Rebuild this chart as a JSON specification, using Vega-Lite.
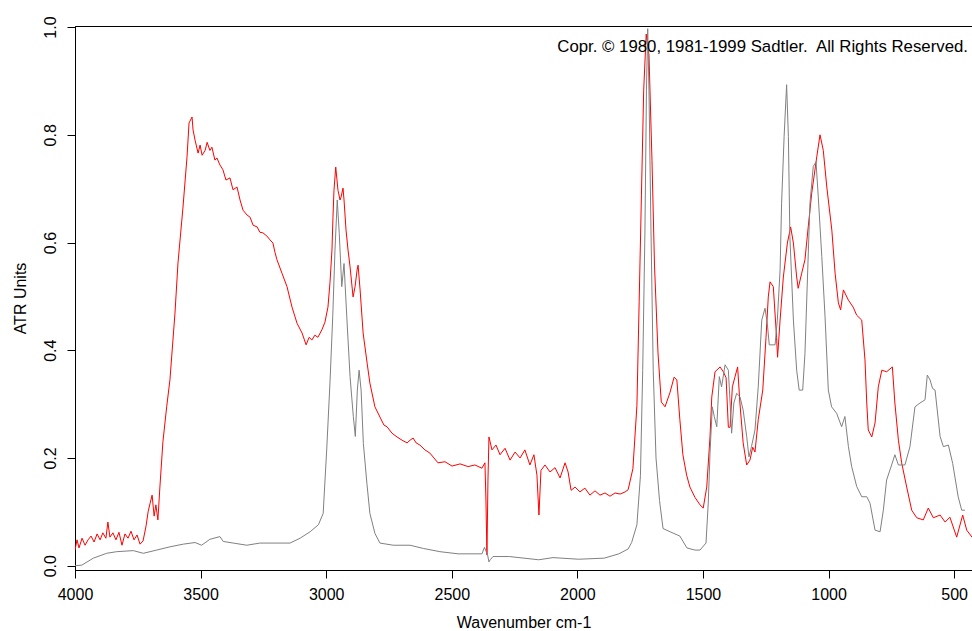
{
  "$schema": "https://vega.github.io/schema/vega-lite/v6.json",
  "width": 897,
  "height": 544,
  "autosize": {"type": "none"},
  "padding": {"left": 75, "top": 26, "right": 0, "bottom": 61},
  "background": "#ffffff",
  "config": {
    "font": "Liberation Sans",
    "view": {"stroke": "#000000", "strokeWidth": 1},
    "axis": {
      "grid": false,
      "domainColor": "#000000",
      "tickColor": "#000000",
      "tickSize": 8,
      "labelColor": "#000000",
      "titleColor": "#000000",
      "labelFontSize": 16,
      "titleFontSize": 16,
      "titleFontWeight": "normal",
      "labelFont": "Liberation Sans",
      "titleFont": "Liberation Sans",
      "labelFlush": false,
      "labelOverlap": false
    }
  },
  "datasets": {
    "red": [
      {"w": 4000, "a": 0.029}, {"w": 3992, "a": 0.048}, {"w": 3984, "a": 0.033}, {"w": 3972, "a": 0.051},
      {"w": 3960, "a": 0.038}, {"w": 3948, "a": 0.048}, {"w": 3936, "a": 0.055}, {"w": 3924, "a": 0.044},
      {"w": 3912, "a": 0.059}, {"w": 3900, "a": 0.048}, {"w": 3889, "a": 0.061}, {"w": 3877, "a": 0.051},
      {"w": 3869, "a": 0.081}, {"w": 3861, "a": 0.053}, {"w": 3849, "a": 0.061}, {"w": 3837, "a": 0.048},
      {"w": 3825, "a": 0.062}, {"w": 3813, "a": 0.038}, {"w": 3801, "a": 0.059}, {"w": 3789, "a": 0.051},
      {"w": 3777, "a": 0.064}, {"w": 3765, "a": 0.048}, {"w": 3753, "a": 0.057}, {"w": 3741, "a": 0.040},
      {"w": 3729, "a": 0.046}, {"w": 3717, "a": 0.074}, {"w": 3709, "a": 0.100}, {"w": 3701, "a": 0.116},
      {"w": 3693, "a": 0.131}, {"w": 3685, "a": 0.092}, {"w": 3678, "a": 0.113}, {"w": 3670, "a": 0.085},
      {"w": 3662, "a": 0.146}, {"w": 3650, "a": 0.230}, {"w": 3635, "a": 0.295}, {"w": 3622, "a": 0.345},
      {"w": 3602, "a": 0.469}, {"w": 3590, "a": 0.562}, {"w": 3570, "a": 0.666}, {"w": 3554, "a": 0.759},
      {"w": 3546, "a": 0.822}, {"w": 3534, "a": 0.833}, {"w": 3530, "a": 0.809}, {"w": 3522, "a": 0.790},
      {"w": 3510, "a": 0.766}, {"w": 3502, "a": 0.781}, {"w": 3494, "a": 0.762}, {"w": 3482, "a": 0.771},
      {"w": 3474, "a": 0.786}, {"w": 3463, "a": 0.771}, {"w": 3455, "a": 0.777}, {"w": 3443, "a": 0.753},
      {"w": 3435, "a": 0.757}, {"w": 3423, "a": 0.744}, {"w": 3411, "a": 0.735}, {"w": 3399, "a": 0.716},
      {"w": 3383, "a": 0.720}, {"w": 3371, "a": 0.698}, {"w": 3355, "a": 0.703}, {"w": 3343, "a": 0.679},
      {"w": 3331, "a": 0.660}, {"w": 3315, "a": 0.651}, {"w": 3303, "a": 0.647}, {"w": 3291, "a": 0.632},
      {"w": 3275, "a": 0.629}, {"w": 3264, "a": 0.619}, {"w": 3252, "a": 0.618}, {"w": 3236, "a": 0.612},
      {"w": 3224, "a": 0.605}, {"w": 3212, "a": 0.599}, {"w": 3204, "a": 0.582}, {"w": 3196, "a": 0.568},
      {"w": 3176, "a": 0.543}, {"w": 3156, "a": 0.518}, {"w": 3136, "a": 0.480}, {"w": 3116, "a": 0.450},
      {"w": 3096, "a": 0.432}, {"w": 3080, "a": 0.410}, {"w": 3068, "a": 0.424}, {"w": 3057, "a": 0.419},
      {"w": 3045, "a": 0.428}, {"w": 3033, "a": 0.424}, {"w": 3017, "a": 0.438}, {"w": 3005, "a": 0.452},
      {"w": 2993, "a": 0.480}, {"w": 2985, "a": 0.525}, {"w": 2977, "a": 0.586}, {"w": 2973, "a": 0.647},
      {"w": 2969, "a": 0.697}, {"w": 2962, "a": 0.740}, {"w": 2957, "a": 0.716}, {"w": 2953, "a": 0.697},
      {"w": 2945, "a": 0.679}, {"w": 2941, "a": 0.684}, {"w": 2933, "a": 0.701}, {"w": 2929, "a": 0.679},
      {"w": 2921, "a": 0.623}, {"w": 2913, "a": 0.586}, {"w": 2905, "a": 0.555}, {"w": 2893, "a": 0.499},
      {"w": 2885, "a": 0.518}, {"w": 2877, "a": 0.549}, {"w": 2873, "a": 0.558}, {"w": 2865, "a": 0.512},
      {"w": 2853, "a": 0.432}, {"w": 2837, "a": 0.376}, {"w": 2826, "a": 0.339}, {"w": 2806, "a": 0.295},
      {"w": 2786, "a": 0.276}, {"w": 2770, "a": 0.261}, {"w": 2758, "a": 0.258}, {"w": 2738, "a": 0.246},
      {"w": 2718, "a": 0.239}, {"w": 2698, "a": 0.233}, {"w": 2678, "a": 0.228}, {"w": 2666, "a": 0.233},
      {"w": 2654, "a": 0.237}, {"w": 2642, "a": 0.228}, {"w": 2627, "a": 0.224}, {"w": 2607, "a": 0.215},
      {"w": 2587, "a": 0.209}, {"w": 2571, "a": 0.200}, {"w": 2555, "a": 0.191}, {"w": 2527, "a": 0.193},
      {"w": 2499, "a": 0.185}, {"w": 2467, "a": 0.189}, {"w": 2435, "a": 0.184}, {"w": 2408, "a": 0.187},
      {"w": 2380, "a": 0.181}, {"w": 2368, "a": 0.191}, {"w": 2364, "a": 0.122}, {"w": 2360, "a": 0.020},
      {"w": 2356, "a": 0.159}, {"w": 2352, "a": 0.239}, {"w": 2340, "a": 0.215}, {"w": 2324, "a": 0.224},
      {"w": 2308, "a": 0.206}, {"w": 2288, "a": 0.218}, {"w": 2268, "a": 0.196}, {"w": 2248, "a": 0.211},
      {"w": 2228, "a": 0.200}, {"w": 2209, "a": 0.215}, {"w": 2189, "a": 0.187}, {"w": 2173, "a": 0.206},
      {"w": 2161, "a": 0.168}, {"w": 2153, "a": 0.094}, {"w": 2145, "a": 0.177}, {"w": 2129, "a": 0.187},
      {"w": 2109, "a": 0.174}, {"w": 2089, "a": 0.182}, {"w": 2069, "a": 0.163}, {"w": 2049, "a": 0.191},
      {"w": 2037, "a": 0.174}, {"w": 2025, "a": 0.140}, {"w": 2009, "a": 0.146}, {"w": 1990, "a": 0.137},
      {"w": 1970, "a": 0.144}, {"w": 1950, "a": 0.131}, {"w": 1930, "a": 0.139}, {"w": 1910, "a": 0.131},
      {"w": 1890, "a": 0.135}, {"w": 1870, "a": 0.129}, {"w": 1850, "a": 0.135}, {"w": 1830, "a": 0.133},
      {"w": 1810, "a": 0.137}, {"w": 1798, "a": 0.141}, {"w": 1779, "a": 0.180}, {"w": 1763, "a": 0.297},
      {"w": 1754, "a": 0.491}, {"w": 1745, "a": 0.688}, {"w": 1736, "a": 0.883}, {"w": 1726, "a": 0.987},
      {"w": 1715, "a": 0.948}, {"w": 1703, "a": 0.753}, {"w": 1693, "a": 0.558}, {"w": 1679, "a": 0.395},
      {"w": 1666, "a": 0.304}, {"w": 1651, "a": 0.295}, {"w": 1631, "a": 0.322}, {"w": 1615, "a": 0.350},
      {"w": 1604, "a": 0.345}, {"w": 1592, "a": 0.271}, {"w": 1580, "a": 0.206}, {"w": 1565, "a": 0.168},
      {"w": 1552, "a": 0.146}, {"w": 1532, "a": 0.127}, {"w": 1512, "a": 0.113}, {"w": 1499, "a": 0.107},
      {"w": 1485, "a": 0.146}, {"w": 1472, "a": 0.239}, {"w": 1465, "a": 0.313}, {"w": 1452, "a": 0.360},
      {"w": 1432, "a": 0.369}, {"w": 1419, "a": 0.360}, {"w": 1408, "a": 0.349}, {"w": 1399, "a": 0.257},
      {"w": 1392, "a": 0.257}, {"w": 1383, "a": 0.332}, {"w": 1373, "a": 0.350}, {"w": 1362, "a": 0.369},
      {"w": 1353, "a": 0.302}, {"w": 1340, "a": 0.228}, {"w": 1326, "a": 0.187}, {"w": 1313, "a": 0.196},
      {"w": 1302, "a": 0.220}, {"w": 1293, "a": 0.211}, {"w": 1280, "a": 0.271}, {"w": 1262, "a": 0.326},
      {"w": 1249, "a": 0.424}, {"w": 1240, "a": 0.499}, {"w": 1233, "a": 0.527}, {"w": 1220, "a": 0.518},
      {"w": 1207, "a": 0.424}, {"w": 1203, "a": 0.387}, {"w": 1193, "a": 0.456}, {"w": 1180, "a": 0.536},
      {"w": 1164, "a": 0.599}, {"w": 1151, "a": 0.629}, {"w": 1140, "a": 0.599}, {"w": 1127, "a": 0.536},
      {"w": 1121, "a": 0.515}, {"w": 1107, "a": 0.543}, {"w": 1094, "a": 0.568}, {"w": 1081, "a": 0.629},
      {"w": 1067, "a": 0.692}, {"w": 1047, "a": 0.759}, {"w": 1034, "a": 0.800}, {"w": 1021, "a": 0.771},
      {"w": 1007, "a": 0.703}, {"w": 987, "a": 0.623}, {"w": 974, "a": 0.543}, {"w": 961, "a": 0.488},
      {"w": 952, "a": 0.475}, {"w": 941, "a": 0.512}, {"w": 921, "a": 0.493}, {"w": 902, "a": 0.480},
      {"w": 888, "a": 0.465}, {"w": 868, "a": 0.456}, {"w": 855, "a": 0.382}, {"w": 848, "a": 0.302},
      {"w": 842, "a": 0.252}, {"w": 828, "a": 0.239}, {"w": 815, "a": 0.265}, {"w": 802, "a": 0.332},
      {"w": 788, "a": 0.363}, {"w": 769, "a": 0.360}, {"w": 746, "a": 0.369}, {"w": 736, "a": 0.302},
      {"w": 722, "a": 0.233}, {"w": 709, "a": 0.191}, {"w": 689, "a": 0.146}, {"w": 669, "a": 0.103},
      {"w": 649, "a": 0.089}, {"w": 623, "a": 0.085}, {"w": 603, "a": 0.107}, {"w": 583, "a": 0.089},
      {"w": 556, "a": 0.094}, {"w": 536, "a": 0.081}, {"w": 517, "a": 0.090}, {"w": 490, "a": 0.053},
      {"w": 466, "a": 0.094}, {"w": 450, "a": 0.066}, {"w": 429, "a": 0.053}
    ],
    "gray": [
      {"w": 4000, "a": 0.000}, {"w": 3973, "a": 0.001}, {"w": 3927, "a": 0.014}, {"w": 3874, "a": 0.023},
      {"w": 3834, "a": 0.026}, {"w": 3768, "a": 0.028}, {"w": 3728, "a": 0.023}, {"w": 3675, "a": 0.029},
      {"w": 3622, "a": 0.035}, {"w": 3569, "a": 0.040}, {"w": 3522, "a": 0.043}, {"w": 3496, "a": 0.038},
      {"w": 3463, "a": 0.049}, {"w": 3423, "a": 0.054}, {"w": 3410, "a": 0.045}, {"w": 3370, "a": 0.042},
      {"w": 3316, "a": 0.038}, {"w": 3264, "a": 0.042}, {"w": 3184, "a": 0.042}, {"w": 3144, "a": 0.042},
      {"w": 3104, "a": 0.051}, {"w": 3064, "a": 0.063}, {"w": 3031, "a": 0.076}, {"w": 3012, "a": 0.097},
      {"w": 2998, "a": 0.215}, {"w": 2985, "a": 0.339}, {"w": 2974, "a": 0.462}, {"w": 2965, "a": 0.586},
      {"w": 2956, "a": 0.679}, {"w": 2948, "a": 0.617}, {"w": 2938, "a": 0.518}, {"w": 2929, "a": 0.561},
      {"w": 2918, "a": 0.462}, {"w": 2905, "a": 0.351}, {"w": 2892, "a": 0.277}, {"w": 2884, "a": 0.240},
      {"w": 2876, "a": 0.326}, {"w": 2869, "a": 0.363}, {"w": 2861, "a": 0.326}, {"w": 2852, "a": 0.227},
      {"w": 2838, "a": 0.153}, {"w": 2826, "a": 0.097}, {"w": 2806, "a": 0.060}, {"w": 2786, "a": 0.042},
      {"w": 2733, "a": 0.038}, {"w": 2666, "a": 0.038}, {"w": 2613, "a": 0.032}, {"w": 2547, "a": 0.026},
      {"w": 2475, "a": 0.022}, {"w": 2380, "a": 0.022}, {"w": 2370, "a": 0.034}, {"w": 2358, "a": 0.021},
      {"w": 2352, "a": 0.007}, {"w": 2347, "a": 0.011}, {"w": 2336, "a": 0.017}, {"w": 2271, "a": 0.017},
      {"w": 2154, "a": 0.011}, {"w": 2097, "a": 0.015}, {"w": 1995, "a": 0.012}, {"w": 1893, "a": 0.014},
      {"w": 1835, "a": 0.022}, {"w": 1798, "a": 0.031}, {"w": 1784, "a": 0.043}, {"w": 1763, "a": 0.076},
      {"w": 1749, "a": 0.167}, {"w": 1740, "a": 0.362}, {"w": 1731, "a": 0.623}, {"w": 1725, "a": 0.883},
      {"w": 1720, "a": 0.997}, {"w": 1715, "a": 0.883}, {"w": 1707, "a": 0.623}, {"w": 1698, "a": 0.362},
      {"w": 1687, "a": 0.200}, {"w": 1673, "a": 0.121}, {"w": 1659, "a": 0.069}, {"w": 1631, "a": 0.063},
      {"w": 1592, "a": 0.055}, {"w": 1564, "a": 0.033}, {"w": 1532, "a": 0.029}, {"w": 1512, "a": 0.029},
      {"w": 1488, "a": 0.042}, {"w": 1479, "a": 0.116}, {"w": 1472, "a": 0.209}, {"w": 1463, "a": 0.295},
      {"w": 1455, "a": 0.277}, {"w": 1445, "a": 0.258}, {"w": 1435, "a": 0.351}, {"w": 1426, "a": 0.332},
      {"w": 1412, "a": 0.373}, {"w": 1399, "a": 0.363}, {"w": 1392, "a": 0.302}, {"w": 1386, "a": 0.246},
      {"w": 1377, "a": 0.302}, {"w": 1366, "a": 0.320}, {"w": 1353, "a": 0.314}, {"w": 1340, "a": 0.289},
      {"w": 1326, "a": 0.240}, {"w": 1317, "a": 0.202}, {"w": 1307, "a": 0.221}, {"w": 1293, "a": 0.252},
      {"w": 1280, "a": 0.332}, {"w": 1266, "a": 0.456}, {"w": 1253, "a": 0.478}, {"w": 1244, "a": 0.450},
      {"w": 1236, "a": 0.410}, {"w": 1213, "a": 0.410}, {"w": 1204, "a": 0.456}, {"w": 1193, "a": 0.549},
      {"w": 1187, "a": 0.673}, {"w": 1177, "a": 0.797}, {"w": 1167, "a": 0.893}, {"w": 1160, "a": 0.797},
      {"w": 1154, "a": 0.611}, {"w": 1140, "a": 0.456}, {"w": 1127, "a": 0.363}, {"w": 1117, "a": 0.326},
      {"w": 1103, "a": 0.326}, {"w": 1094, "a": 0.394}, {"w": 1083, "a": 0.549}, {"w": 1074, "a": 0.673},
      {"w": 1061, "a": 0.741}, {"w": 1050, "a": 0.750}, {"w": 1041, "a": 0.685}, {"w": 1027, "a": 0.574},
      {"w": 1014, "a": 0.462}, {"w": 1001, "a": 0.326}, {"w": 988, "a": 0.295}, {"w": 968, "a": 0.283},
      {"w": 948, "a": 0.258}, {"w": 935, "a": 0.277}, {"w": 921, "a": 0.221}, {"w": 908, "a": 0.184},
      {"w": 888, "a": 0.147}, {"w": 868, "a": 0.128}, {"w": 848, "a": 0.128}, {"w": 835, "a": 0.116},
      {"w": 815, "a": 0.066}, {"w": 795, "a": 0.063}, {"w": 782, "a": 0.103}, {"w": 769, "a": 0.159},
      {"w": 749, "a": 0.187}, {"w": 736, "a": 0.206}, {"w": 722, "a": 0.187}, {"w": 696, "a": 0.187},
      {"w": 676, "a": 0.221}, {"w": 656, "a": 0.295}, {"w": 636, "a": 0.302}, {"w": 616, "a": 0.308},
      {"w": 607, "a": 0.354}, {"w": 596, "a": 0.345}, {"w": 586, "a": 0.329}, {"w": 576, "a": 0.326},
      {"w": 556, "a": 0.240}, {"w": 543, "a": 0.221}, {"w": 523, "a": 0.224}, {"w": 506, "a": 0.190},
      {"w": 484, "a": 0.128}, {"w": 470, "a": 0.103}, {"w": 457, "a": 0.103}
    ],
    "note": [
      {"w": 445, "a": 0.954, "t": "Copr. © 1980, 1981-1999 Sadtler.\u00a0 All Rights Reserved."}
    ]
  },
  "encoding": {
    "x": {
      "field": "w",
      "type": "quantitative",
      "scale": {"domain": [4000, 429], "nice": false, "zero": false},
      "axis": {
        "values": [4000, 3500, 3000, 2500, 2000, 1500, 1000, 500],
        "format": "d",
        "title": "Wavenumber cm-1",
        "labelPadding": 8,
        "titlePadding": 12
      }
    },
    "y": {
      "field": "a",
      "type": "quantitative",
      "scale": {"domain": [-0.008, 1.002], "nice": false, "zero": false},
      "axis": {
        "values": [0, 0.2, 0.4, 0.6, 0.8, 1.0],
        "format": ".1f",
        "title": "ATR Units",
        "labelAngle": 270,
        "labelAlign": "center",
        "labelBaseline": "bottom",
        "labelPadding": 9,
        "titlePadding": 14
      }
    }
  },
  "layer": [
    {
      "data": {"name": "red"},
      "mark": {"type": "line", "color": "#ff0000", "strokeWidth": 1, "clip": true}
    },
    {
      "data": {"name": "gray"},
      "mark": {"type": "line", "color": "#808080", "strokeWidth": 1, "clip": true}
    },
    {
      "data": {"name": "note"},
      "mark": {"type": "text", "align": "right", "baseline": "alphabetic", "fontSize": 16.8, "color": "#000000", "font": "Liberation Sans"},
      "encoding": {"text": {"field": "t"}}
    }
  ]
}
